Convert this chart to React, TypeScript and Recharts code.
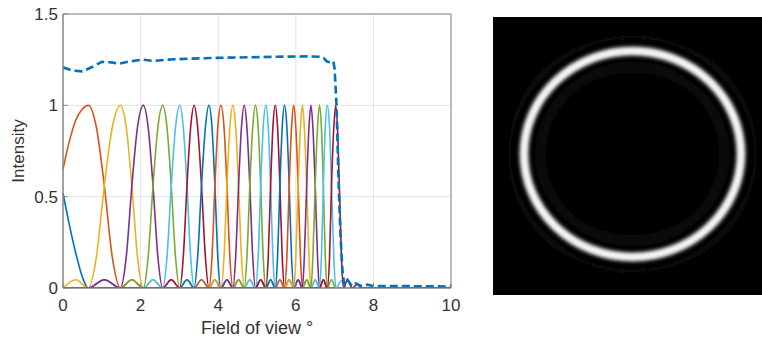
import React from "react";
import {
  LineChart,
  Line,
  XAxis,
  YAxis,
  CartesianGrid,
  ReferenceArea,
} from "recharts";

// MATLAB default colour order
const palette = ["#0072BD", "#D95319", "#EDB120", "#7E2F8E", "#77AC30", "#4DBEEE", "#A2142F"];

const xTicks = [0, 2, 4, 6, 8, 10];
const yTicks = [0, 0.5, 1, 1.5];

type Pt = { x: number; y: number };
const pts = (a: number[][]): Pt[] => a.map(([x, y]) => ({ x, y }));

// one beam per array: [field of view, intensity]
const beam0 = pts([[0, 0.52], [0.16, 0.35], [0.33, 0.19], [0.5, 0.06], [0.65, 0], [1.065, 0.045], [1.48, 0], [10, 0]]);
const beam1 = pts([[0, 0.65], [0.16, 0.8], [0.33, 0.92], [0.5, 0.98], [0.65, 1], [0.86, 0.88], [1.065, 0.56], [1.27, 0.17], [1.48, 0], [1.775, 0.045], [2.07, 0], [10, 0]]);
const beam2 = pts([[0, 0], [0.33, 0.045], [0.65, 0], [0.86, 0.17], [1.065, 0.56], [1.27, 0.88], [1.48, 1], [1.63, 0.88], [1.775, 0.56], [1.92, 0.17], [2.07, 0], [2.32, 0.045], [2.57, 0], [10, 0]]);
const beam3 = pts([[0, 0], [0.65, 0], [1.065, 0.045], [1.48, 0], [1.63, 0.17], [1.775, 0.56], [1.92, 0.88], [2.07, 1], [2.195, 0.88], [2.32, 0.56], [2.445, 0.17], [2.57, 0], [2.79, 0.045], [3.01, 0], [10, 0]]);
const beam4 = pts([[0, 0], [1.48, 0], [1.775, 0.045], [2.07, 0], [2.195, 0.17], [2.32, 0.56], [2.445, 0.88], [2.57, 1], [2.68, 0.88], [2.79, 0.56], [2.9, 0.17], [3.01, 0], [3.195, 0.045], [3.38, 0], [10, 0]]);
const beam5 = pts([[0, 0], [2.07, 0], [2.32, 0.045], [2.57, 0], [2.68, 0.17], [2.79, 0.56], [2.9, 0.88], [3.01, 1], [3.1, 0.88], [3.195, 0.56], [3.29, 0.17], [3.38, 0], [3.57, 0.045], [3.76, 0], [10, 0]]);
const beam6 = pts([[0, 0], [2.57, 0], [2.79, 0.045], [3.01, 0], [3.1, 0.17], [3.195, 0.56], [3.29, 0.88], [3.38, 1], [3.47, 0.88], [3.57, 0.56], [3.67, 0.17], [3.76, 0], [3.915, 0.045], [4.07, 0], [10, 0]]);
const beam7 = pts([[0, 0], [3.01, 0], [3.195, 0.045], [3.38, 0], [3.47, 0.17], [3.57, 0.56], [3.67, 0.88], [3.76, 1], [3.84, 0.88], [3.915, 0.56], [3.99, 0.17], [4.07, 0], [4.225, 0.045], [4.38, 0], [10, 0]]);
const beam8 = pts([[0, 0], [3.38, 0], [3.57, 0.045], [3.76, 0], [3.84, 0.17], [3.915, 0.56], [3.99, 0.88], [4.07, 1], [4.15, 0.88], [4.225, 0.56], [4.3, 0.17], [4.38, 0], [4.525, 0.045], [4.67, 0], [10, 0]]);
const beam9 = pts([[0, 0], [3.76, 0], [3.915, 0.045], [4.07, 0], [4.15, 0.17], [4.225, 0.56], [4.3, 0.88], [4.38, 1], [4.45, 0.88], [4.525, 0.56], [4.6, 0.17], [4.67, 0], [4.815, 0.045], [4.96, 0], [10, 0]]);
const beam10 = pts([[0, 0], [4.07, 0], [4.225, 0.045], [4.38, 0], [4.45, 0.17], [4.525, 0.56], [4.6, 0.88], [4.67, 1], [4.74, 0.88], [4.815, 0.56], [4.89, 0.17], [4.96, 0], [5.095, 0.045], [5.23, 0], [10, 0]]);
const beam11 = pts([[0, 0], [4.38, 0], [4.525, 0.045], [4.67, 0], [4.74, 0.17], [4.815, 0.56], [4.89, 0.88], [4.96, 1], [5.03, 0.88], [5.095, 0.56], [5.16, 0.17], [5.23, 0], [5.35, 0.045], [5.47, 0], [10, 0]]);
const beam12 = pts([[0, 0], [4.67, 0], [4.815, 0.045], [4.96, 0], [5.03, 0.17], [5.095, 0.56], [5.16, 0.88], [5.23, 1], [5.29, 0.88], [5.35, 0.56], [5.41, 0.17], [5.47, 0], [5.59, 0.045], [5.71, 0], [10, 0]]);
const beam13 = pts([[0, 0], [4.96, 0], [5.095, 0.045], [5.23, 0], [5.29, 0.17], [5.35, 0.56], [5.41, 0.88], [5.47, 1], [5.53, 0.88], [5.59, 0.56], [5.65, 0.17], [5.71, 0], [5.83, 0.045], [5.95, 0], [10, 0]]);
const beam14 = pts([[0, 0], [5.23, 0], [5.35, 0.045], [5.47, 0], [5.53, 0.17], [5.59, 0.56], [5.65, 0.88], [5.71, 1], [5.77, 0.88], [5.83, 0.56], [5.89, 0.17], [5.95, 0], [6.06, 0.045], [6.17, 0], [10, 0]]);
const beam15 = pts([[0, 0], [5.47, 0], [5.59, 0.045], [5.71, 0], [5.77, 0.17], [5.83, 0.56], [5.89, 0.88], [5.95, 1], [6.0, 0.88], [6.06, 0.56], [6.12, 0.17], [6.17, 0], [6.28, 0.045], [6.39, 0], [10, 0]]);
const beam16 = pts([[0, 0], [5.71, 0], [5.83, 0.045], [5.95, 0], [6.0, 0.17], [6.06, 0.56], [6.12, 0.88], [6.17, 1], [6.22, 0.88], [6.28, 0.56], [6.34, 0.17], [6.39, 0], [6.5, 0.045], [6.61, 0], [10, 0]]);
const beam17 = pts([[0, 0], [5.95, 0], [6.06, 0.045], [6.17, 0], [6.22, 0.17], [6.28, 0.56], [6.34, 0.88], [6.39, 1], [6.44, 0.88], [6.5, 0.56], [6.56, 0.17], [6.61, 0], [6.71, 0.045], [6.81, 0], [10, 0]]);
const beam18 = pts([[0, 0], [6.17, 0], [6.28, 0.045], [6.39, 0], [6.44, 0.17], [6.5, 0.56], [6.56, 0.88], [6.61, 1], [6.66, 0.88], [6.71, 0.56], [6.76, 0.17], [6.81, 0], [6.92, 0.045], [7.03, 0], [10, 0]]);
const beam19 = pts([[0, 0], [6.39, 0], [6.5, 0.045], [6.61, 0], [6.66, 0.17], [6.71, 0.56], [6.76, 0.88], [6.81, 1], [6.87, 0.88], [6.92, 0.56], [6.98, 0.17], [7.03, 0], [7.18, 0.04], [7.3, 0], [10, 0]]);
const beam20 = pts([[0, 0], [6.61, 0], [6.71, 0.045], [6.81, 0], [6.87, 0.17], [6.92, 0.56], [6.98, 0.88], [7.03, 1], [7.08, 0.85], [7.13, 0.5], [7.18, 0.15], [7.23, 0], [7.33, 0.045], [7.45, 0], [7.58, 0.02], [7.7, 0], [10, 0]]);

const beams = [
  beam0, beam1, beam2, beam3, beam4, beam5, beam6, beam7, beam8, beam9, beam10,
  beam11, beam12, beam13, beam14, beam15, beam16, beam17, beam18, beam19, beam20,
];

// total (dashed)
const total = pts([
  [0, 1.208], [0.25, 1.19], [0.5, 1.186], [0.75, 1.21], [1.0, 1.238], [1.25, 1.235], [1.45, 1.228],
  [1.7, 1.24], [2.05, 1.25], [2.35, 1.243], [2.7, 1.25], [3.2, 1.255], [4, 1.26], [4.8, 1.263],
  [5.5, 1.266], [6.3, 1.268], [6.6, 1.266], [6.72, 1.258], [6.8, 1.24], [6.9, 1.235], [6.97, 1.24],
  [7.0, 1.2], [7.05, 1.0], [7.1, 0.6], [7.15, 0.3], [7.2, 0.1], [7.25, 0.02], [7.33, 0.045],
  [7.45, 0.01], [7.55, 0.025], [7.7, 0.01], [7.85, 0.018], [8, 0.01], [9, 0.01], [10, 0.008],
]);

const font = "'Liberation Sans', Arial, Helvetica, sans-serif";
const tickStyle = { fill: "#333", fontSize: 17, fontFamily: font };

function Ring() {
  const cx = 632.5;
  const cy = 154;
  return (
    <svg width={762} height={337} style={{ position: "absolute", left: 0, top: 0 }}>
      <defs>
        <filter id="soft" x="-20%" y="-20%" width="140%" height="140%">
          <feGaussianBlur stdDeviation="2.2" />
        </filter>
        <filter id="softer" x="-20%" y="-20%" width="140%" height="140%">
          <feGaussianBlur stdDeviation="4" />
        </filter>
      </defs>
      <rect x={493} y={17} width={269} height={278} fill="#000" />
      <ellipse cx={cx} cy={cy} rx={123} ry={117} fill="none" stroke="#111" strokeWidth={6} filter="url(#softer)" />
      <ellipse cx={cx} cy={cy} rx={92} ry={87} fill="none" stroke="#121212" strokeWidth={6} filter="url(#softer)" />
      <ellipse cx={cx} cy={cy} rx={108.5} ry={103} fill="none" stroke="#fff" strokeWidth={8} filter="url(#soft)" />
      <ellipse cx={cx} cy={cy} rx={108.5} ry={103} fill="none" stroke="#f4f4f4" strokeWidth={3} filter="url(#soft)" />
    </svg>
  );
}

export default function App() {
  return (
    <div style={{ position: "absolute", left: 0, top: 0, width: 762, height: 337, background: "#fff" }}>
      <LineChart width={470} height={337} margin={{ top: 14, right: 19, left: 0, bottom: 0 }}>
        <CartesianGrid stroke="#e4e4e4" strokeWidth={1} />
        <XAxis
          dataKey="x"
          type="number"
          domain={[0, 10]}
          ticks={xTicks}
          allowDataOverflow
          height={49}
          stroke="#888"
          tickSize={-5}
          tickMargin={16}
          tick={tickStyle}
          label={{ value: "Field of view °", position: "insideBottom", offset: 3, fill: "#333", fontSize: 18, fontFamily: font }}
        />
        <YAxis
          type="number"
          domain={[0, 1.5]}
          ticks={yTicks}
          allowDataOverflow
          width={63}
          stroke="#888"
          tickSize={-5}
          tickMargin={10}
          tick={tickStyle}
          label={{ value: "Intensity", angle: -90, position: "center", dx: -14, fill: "#333", fontSize: 17, fontFamily: font }}
        />
        <ReferenceArea x1={0} x2={10} y1={0} y2={1.5} fill="none" stroke="#888" strokeWidth={1} />
        {beams.map((d, i) => (
          <Line
            key={i}
            data={d}
            dataKey="y"
            type="monotone"
            stroke={palette[i % 7]}
            strokeWidth={1.6}
            dot={false}
            activeDot={false}
            isAnimationActive={false}
          />
        ))}
        <Line
          data={total}
          dataKey="y"
          type="linear"
          stroke="#0072BD"
          strokeWidth={2.6}
          strokeDasharray="8 4"
          dot={false}
          activeDot={false}
          isAnimationActive={false}
        />
      </LineChart>
      <Ring />
    </div>
  );
}
